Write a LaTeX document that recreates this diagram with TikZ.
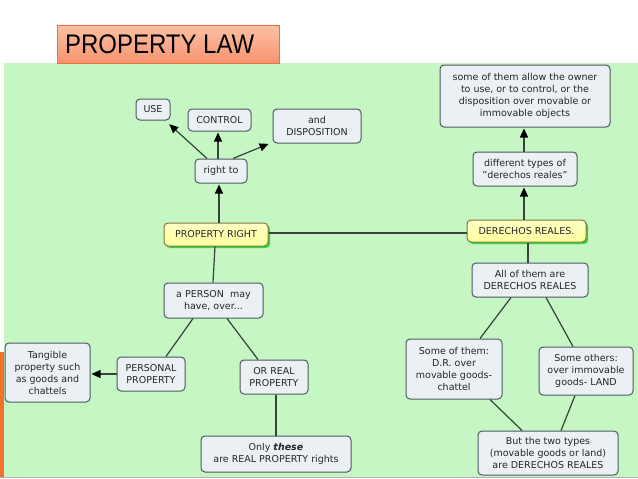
\documentclass[tikz,border=0pt]{standalone}
\usepackage{fontspec}
\setmainfont{DejaVu Sans}
\newfontfamily\titlefont{Liberation Sans}
\usetikzlibrary{arrows.meta,shadows}
\definecolor{bggreen}{HTML}{C5F6C3}
\definecolor{boxfill}{HTML}{EAF0F3}
\definecolor{boxline}{HTML}{4E5A5E}
\definecolor{txt}{HTML}{262626}
\definecolor{edge}{HTML}{34443A}
\definecolor{yel}{HTML}{FFFF9E}
\definecolor{yelline}{HTML}{7D7A3A}
\definecolor{titleA}{HTML}{FCC0A4}
\definecolor{titleB}{HTML}{F79470}
\definecolor{titleline}{HTML}{E5733F}
\definecolor{orangebar}{HTML}{F0702C}
\tikzset{
  box/.style={draw=boxline, fill=boxfill, rounded corners=4pt, line width=1pt,
    align=center, text=txt, inner sep=0pt,
    font=\fontsize{9.5}{12}\selectfont},
  keybox/.style={box, draw=yelline, top color=yel!60!white, bottom color=yel,
    drop shadow={fill=green!75!black, opacity=0.7, shadow xshift=2pt, shadow yshift=-2pt}},
  conn/.style={draw=edge, line width=1.2pt},
  arr/.style={conn, -{Triangle[length=9pt,width=8pt,fill=black,color=black]}, shorten >=1pt}
}
\begin{document}
\begin{tikzpicture}[x=1pt,y=-1pt]
\useasboundingbox (0,0) rectangle (638,479);
\fill[white] (0,0) rectangle (638,479);
% background panel
\fill[bggreen] (4,63) rectangle (638,477);
\fill[orangebar] (0,352) rectangle (4,477);
\draw[gray!60, line width=0.8pt] (0,477.5) -- (638,477.5);
% title
\node[draw=titleline, line width=1pt, top color=titleA, bottom color=titleB,
  minimum width=222pt, minimum height=38pt, inner sep=0pt, text=black,
  font=\titlefont\fontsize{24}{24}\selectfont] (title) at (168,44)
  {\makebox[206pt][l]{\scalebox{1}[1.12]{PROPERTY LAW}}};
% left side
\node[box, minimum width=34pt, minimum height=21pt] (use) at (153,109.5) {USE};
\node[box, minimum width=63pt, minimum height=22pt] (ctrl) at (219.5,120) {CONTROL};
\node[box, minimum width=88pt, minimum height=34pt] (disp) at (317,126) {and\\DISPOSITION};
\node[box, minimum width=52pt, minimum height=24pt] (rt) at (221,171) {right to};
\node[keybox, minimum width=104pt, minimum height=23pt] (pr) at (216,234.5) {PROPERTY RIGHT};
\node[box, minimum width=99pt, minimum height=35pt] (person) at (213.5,300.5) {a PERSON\ \ may\\have, over...};
\node[box, minimum width=68pt, minimum height=34pt] (pers) at (151,374) {PERSONAL\\PROPERTY};
\node[box, minimum width=68pt, minimum height=34pt] (real) at (274,377) {OR REAL\\PROPERTY};
\node[box, minimum width=85pt, minimum height=59pt] (tang) at (47.5,372.5) {Tangible\\property such\\as goods and\\chattels};
\node[box, minimum width=150pt, minimum height=36pt] (only) at (276,454) {Only \textbf{\textit{these}}\\are REAL PROPERTY rights};
% right side
\node[keybox, minimum width=119pt, minimum height=22pt] (dr) at (526.5,231) {DERECHOS REALES.};
\node[box, minimum width=104pt, minimum height=34pt] (types) at (525,169) {different types of\\"derechos reales"};
\node[box, minimum width=170pt, minimum height=62pt] (some) at (525,96) {some of them allow the owner\\to use, or to control, or the\\disposition over movable or\\immovable objects};
\node[box, minimum width=116pt, minimum height=34pt] (all) at (530,280) {All of them are\\DERECHOS REALES};
\node[box, minimum width=96pt, minimum height=60pt] (mov) at (454,369) {Some of them:\\D.R. over\\movable goods-\\chattel};
\node[box, minimum width=94pt, minimum height=48pt] (imm) at (586,371) {Some others:\\over immovable\\goods- LAND};
\node[box, minimum width=140pt, minimum height=44pt] (both) at (548,453) {But the two types\\(movable goods or land)\\are DERECHOS REALES};
% connectors
\draw[arr] ([xshift=-14pt]rt.north) -- ([xshift=-2pt,yshift=-3pt]use.south east);
\draw[arr] ([xshift=-3pt]rt.north) -- ([xshift=-1.5pt]ctrl.south);
\draw[arr] ([xshift=12pt]rt.north) -- ([xshift=-3pt]disp.south west);
\draw[arr] ([xshift=3pt]pr.north) -- ([xshift=-2pt]rt.south);
\draw[conn] ([yshift=1.5pt]pr.east) -- ([yshift=-2pt]dr.west);
\draw[conn] ([xshift=-1pt]pr.south) -- ([xshift=-0.5pt]person.north);
\draw[conn] ([xshift=-20.5pt]person.south) -- ([xshift=15pt]pers.north);
\draw[conn] ([xshift=13.5pt]person.south) -- ([xshift=-16pt]real.north);
\draw[arr] (pers.west) -- (tang.east |- pers.west);
\draw[conn] ([xshift=2pt]real.south) -- ([xshift=0pt]only.north);
\draw[arr] ([xshift=-2.5pt]dr.north) -- ([xshift=-1pt]types.south);
\draw[arr] ([xshift=-1pt]types.north) -- ([xshift=-1pt]some.south);
\draw[conn] ([xshift=1.5pt]dr.south) -- ([xshift=-2pt]all.north);
\draw[conn] ([xshift=-19pt]all.south) -- ([xshift=26pt]mov.north);
\draw[conn] ([xshift=16pt]all.south) -- ([xshift=-13pt]imm.north);
\draw[conn] ([xshift=36pt]mov.south) -- ([xshift=-26pt]both.north);
\draw[conn] ([xshift=-11pt]imm.south) -- ([xshift=13pt]both.north);
\end{tikzpicture}
\end{document}
